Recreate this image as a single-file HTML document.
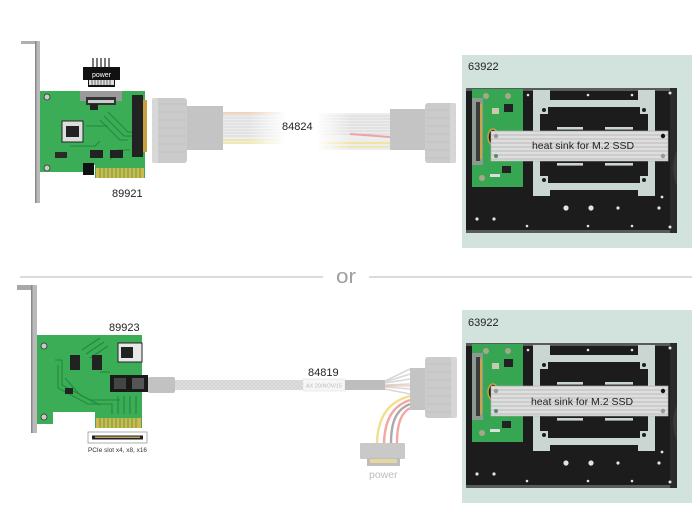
<!DOCTYPE html>
<html><head><meta charset="utf-8">
<style>
html,body{margin:0;padding:0;background:#fff;}
svg{display:block;}
text{font-family:"Liberation Sans",Arial,sans-serif;}
</style></head><body>
<svg width="700" height="530" viewBox="0 0 700 530" xmlns="http://www.w3.org/2000/svg">
<defs>
<linearGradient id="fadeR" x1="0" x2="1" y1="0" y2="0"><stop offset="0" stop-color="#fff" stop-opacity="0"/><stop offset="1" stop-color="#fff" stop-opacity="1"/></linearGradient>
<linearGradient id="fadeL" x1="0" x2="1" y1="0" y2="0"><stop offset="0" stop-color="#fff" stop-opacity="1"/><stop offset="1" stop-color="#fff" stop-opacity="0"/></linearGradient>
<pattern id="hs" width="4" height="4" patternUnits="userSpaceOnUse"><rect width="4" height="4" fill="#dedede"/><rect y="2.4" width="4" height="1.2" fill="#c0c0c0"/></pattern>
<pattern id="braid" width="4" height="4" patternUnits="userSpaceOnUse"><rect width="4" height="4" fill="#d2d2d2"/><path d="M0,0 L4,4 M4,0 L0,4" stroke="#e2e2e2" stroke-width="0.7"/></pattern>
<g id="tray">
 <rect x="0" y="0" width="211" height="145" fill="#1c1c1c"/>
 <rect x="0" y="0" width="211" height="3" fill="#5a5a5a"/>
 <rect x="0" y="142" width="211" height="3" fill="#5a5a5a"/>
 <rect x="204" y="0" width="7" height="145" fill="#2b2b2b"/>
 <path d="M211,62 Q203,80 211,98" fill="#3a3a3a"/>
 <!-- frame cutouts -->
 <g fill="#c9d6d2">
  <rect x="67" y="2" width="7" height="106"/>
  <rect x="182" y="2" width="7" height="106"/>
  <rect x="67" y="12" width="122" height="7"/>
  <rect x="67" y="95" width="122" height="7"/>
  <rect x="67" y="2" width="17" height="10"/>
  <rect x="172" y="2" width="17" height="10"/>
  <rect x="67" y="102" width="17" height="6"/>
  <rect x="172" y="102" width="17" height="6"/>
  <rect x="74" y="19" width="8" height="7"/>
  <rect x="174" y="19" width="8" height="7"/>
  <rect x="74" y="88" width="8" height="7"/>
  <rect x="174" y="88" width="8" height="7"/>
  <rect x="91" y="39" width="26" height="2.6"/>
  <rect x="139" y="39" width="28" height="2.6"/>
  <rect x="91" y="75" width="26" height="2.6"/>
  <rect x="139" y="75" width="28" height="2.6"/>
 </g>
 <g fill="#1c1c1c">
  <circle cx="78" cy="22" r="2"/><circle cx="178" cy="22" r="2"/>
  <circle cx="78" cy="92" r="2"/><circle cx="178" cy="92" r="2"/>
 </g>
 <g fill="#e2e2e2">
  <circle cx="100" cy="120" r="2.6"/><circle cx="125" cy="120" r="2.6"/>
  <circle cx="152" cy="120" r="1.6"/><circle cx="193" cy="120" r="1.6"/>
  <circle cx="11" cy="131" r="1.6"/><circle cx="28" cy="131" r="1.6"/>
  <circle cx="196" cy="109" r="1.4"/>
  <circle cx="62" cy="7" r="1.3"/><circle cx="122" cy="7" r="1.3"/><circle cx="166" cy="7" r="1.3"/><circle cx="204" cy="5" r="1.5"/>
  <circle cx="61" cy="138" r="1.3"/><circle cx="122" cy="138" r="1.3"/><circle cx="166" cy="138" r="1.3"/><circle cx="204" cy="139" r="1.5"/>
 </g>
 <!-- PCB -->
 <rect x="6" y="1" width="51" height="98" fill="#36a653"/>
 <rect x="6" y="10" width="11" height="67" fill="#8d9a92"/>
 <rect x="10" y="14" width="4" height="59" fill="#3c3c3c"/>
 <rect x="14" y="16" width="2" height="55" fill="#c8a448"/>
 <circle cx="20" cy="8" r="3" fill="#a8a68a"/><circle cx="42" cy="8" r="3" fill="#a8a68a"/>
 <circle cx="16" cy="90" r="3" fill="#a8a68a"/><circle cx="44" cy="70" r="3" fill="#a8a68a"/>
 <rect x="38" y="16" width="9" height="8" fill="#222"/>
 <rect x="26" y="20" width="7" height="6" fill="#c9c9b0"/>
 <rect x="36" y="78" width="9" height="7" fill="#222"/>
 <rect x="24" y="86" width="10" height="3" fill="#ddd"/>
 <ellipse cx="27" cy="49" rx="5" ry="8" fill="#1a1a1a" stroke="#c8a040" stroke-width="1.5"/>
 <!-- heat sink -->
 <rect x="25" y="43" width="177" height="30" fill="url(#hs)" stroke="#b5b5b5" stroke-width="0.6"/>
 <circle cx="30" cy="48" r="2.2" fill="#9a9a8a"/>
 <circle cx="197" cy="48" r="2.2" fill="#111"/>
 <circle cx="30" cy="68" r="2" fill="#5a8a6a"/>
 <circle cx="197" cy="68" r="2.2" fill="#9a9a8a"/>
</g>
</defs>

<!-- divider -->
<line x1="20" y1="277" x2="323" y2="277" stroke="#cfcfcf" stroke-width="1.5"/>
<line x1="369" y1="277" x2="692" y2="277" stroke="#cfcfcf" stroke-width="1.5"/>
<text x="336" y="283" font-size="20" fill="#a0a0a0" textLength="20" lengthAdjust="spacingAndGlyphs">or</text>

<!-- panels -->
<rect x="462" y="55" width="230" height="193" fill="#d2e3de"/>
<rect x="462" y="310" width="230" height="193" fill="#d2e3de"/>
<use href="#tray" transform="translate(466,88)"/>
<use href="#tray" transform="translate(466,343)"/>
<text x="468" y="70" font-size="11" fill="#222">63922</text>
<text x="468" y="326" font-size="11" fill="#222">63922</text>
<text x="583" y="149" font-size="10.5" fill="#222" text-anchor="middle">heat sink for M.2 SSD</text>
<text x="582" y="405" font-size="10.5" fill="#222" text-anchor="middle">heat sink for M.2 SSD</text>

<!-- ===== TOP CARD 89921 ===== -->
<rect x="21" y="41" width="17" height="3" fill="#b0b0b0"/>
<rect x="35" y="41" width="5" height="162" fill="#bababa"/>
<rect x="35" y="41" width="1.5" height="162" fill="#8a8a8a"/>
<path d="M40,91 H145 V178 H95 V165 H83 V172 H40 Z" fill="#3aad56"/>
<g stroke="#24883f" stroke-width="1" fill="none">
 <path d="M100,120 L120,140 L128,140"/><path d="M104,116 L124,136 L132,136"/>
 <path d="M108,112 L128,132 L132,132"/><path d="M110,160 L118,150 L130,150"/>
 <path d="M70,146 L95,146 L100,141"/><path d="M86,126 L108,126"/>
</g>
<circle cx="47" cy="97" r="3" fill="#c9c9c9" stroke="#333" stroke-width="0.8"/>
<circle cx="47" cy="168" r="3" fill="#c9c9c9" stroke="#333" stroke-width="0.8"/>
<rect x="80" y="91" width="42" height="10" fill="#9a9a9a"/>
<rect x="86" y="97" width="30" height="8" fill="#333"/>
<rect x="88" y="100" width="26" height="3" fill="#ccc"/>
<rect x="132" y="95" width="11" height="62" fill="#222"/>
<rect x="143" y="100" width="4" height="52" fill="#c8a040"/>
<rect x="62" y="121" width="21" height="21" fill="#ddd" stroke="#222" stroke-width="1"/>
<rect x="66" y="126" width="13" height="11" fill="#222"/>
<rect x="90" y="150" width="13" height="8" fill="#222"/>
<rect x="110" y="150" width="13" height="8" fill="#222"/>
<rect x="90" y="104" width="8" height="6" fill="#222"/>
<rect x="55" y="152" width="12" height="6" fill="#2a2a2a"/>
<rect x="83" y="163" width="11" height="12" fill="#111"/>
<rect x="96" y="168" width="48" height="10" fill="#d9b449"/>
<g stroke="#3aad56" stroke-width="1"><path d="M100,168V178M104,168V178M108,168V178M112,168V178M116,168V178M120,168V178M124,168V178M128,168V178M132,168V178M136,168V178M140,168V178"/></g>
<!-- power connector -->
<g stroke="#222" stroke-width="1.2"><path d="M93,58V67M97,58V67M101,58V67M105,58V67M109,58V67"/></g>
<path d="M83,67 H120 V80 H115 V87 H88 V80 H83 Z" fill="#111"/>
<rect x="89" y="80" width="25" height="5" fill="#ddd"/>
<g stroke="#222" stroke-width="0.6"><path d="M92,80V85M95,80V85M98,80V85M101,80V85M104,80V85M107,80V85M110,80V85"/></g>
<text x="101.5" y="77" font-size="7" fill="#fff" text-anchor="middle">power</text>
<text x="112" y="197" font-size="11" fill="#222">89921</text>

<!-- ===== TOP CABLE 84824 ===== -->
<rect x="223" y="112" width="62" height="32" fill="#ededed"/>
<g stroke="#d0d0d0" stroke-width="0.8"><path d="M223,115H285M223,118H285M223,121H285M223,124H285M223,127H285M223,130H285M223,133H285M223,136H285"/></g>
<line x1="223" y1="113" x2="285" y2="113" stroke="#f3c9a8" stroke-width="1.5"/>
<line x1="223" y1="140" x2="285" y2="140" stroke="#f1e6a8" stroke-width="2"/>
<line x1="223" y1="143" x2="285" y2="143" stroke="#f1e6a8" stroke-width="1.5"/>
<rect x="248" y="105" width="38" height="45" fill="url(#fadeR)"/>
<rect x="187" y="106" width="36" height="44" fill="#c4c4c4"/>
<rect x="152" y="98" width="35" height="65" rx="3" fill="#cbcbcb"/>
<rect x="152" y="98" width="6" height="65" rx="2" fill="#d8d8d8"/>
<g stroke="#bdbdbd" stroke-width="0.7"><path d="M158,104H186M158,112H186M158,120H186M158,128H186M158,136H186M158,144H186M158,152H186"/></g>

<rect x="318" y="113" width="72" height="37" fill="#ededed"/>
<g stroke="#d0d0d0" stroke-width="0.8"><path d="M318,116H390M318,119H390M318,122H390M318,125H390M318,128H390M318,131H390M318,134H390"/></g>
<path d="M350,134 L390,137" stroke="#f0a0a8" stroke-width="2"/>
<line x1="318" y1="143" x2="390" y2="143" stroke="#f0e4a0" stroke-width="2"/>
<line x1="318" y1="147" x2="390" y2="147" stroke="#f0e4a0" stroke-width="1.5"/>
<rect x="316" y="108" width="36" height="45" fill="url(#fadeL)"/>
<rect x="390" y="109" width="35" height="41" fill="#c4c4c4"/>
<rect x="425" y="103" width="31" height="60" rx="3" fill="#cbcbcb"/>
<rect x="450" y="103" width="6" height="60" rx="2" fill="#d6d6d6"/>
<g stroke="#bdbdbd" stroke-width="0.7"><path d="M426,110H450M426,118H450M426,126H450M426,134H450M426,142H450M426,150H450M426,158H450"/></g>
<text x="282" y="130" font-size="11" fill="#222">84824</text>

<!-- ===== BOTTOM CARD 89923 ===== -->
<rect x="17" y="285" width="20" height="5" fill="#a8a8a8"/>
<rect x="31" y="285" width="6" height="148" fill="#bababa"/>
<rect x="31" y="285" width="1.5" height="148" fill="#8a8a8a"/>
<path d="M37,335 H142 V428 H95 V412 H53 V424 H37 Z" fill="#3aad56"/>
<g stroke="#24883f" stroke-width="1.1" fill="none">
 <path d="M55,360 L62,360 L62,385 L90,400 L120,400"/>
 <path d="M58,365 L58,388 L88,404 L112,404 L112,414"/>
 <path d="M82,350 L100,338"/><path d="M86,354 L104,342"/><path d="M90,358 L108,346"/>
 <path d="M100,372 L110,372"/><path d="M118,396 L118,414"/><path d="M124,396 L124,414"/><path d="M130,396 L130,414"/><path d="M136,396 L136,414"/>
 <path d="M65,378 L80,395 L100,405"/>
</g>
<circle cx="44" cy="346" r="3" fill="#c9c9c9" stroke="#333" stroke-width="0.8"/>
<circle cx="44" cy="417" r="3" fill="#c9c9c9" stroke="#333" stroke-width="0.8"/>
<rect x="70" y="355" width="10" height="15" fill="#222"/>
<rect x="92" y="355" width="10" height="15" fill="#222"/>
<rect x="65" y="388" width="8" height="6" fill="#222"/>
<rect x="118" y="343" width="24" height="19" fill="#e8e8e8" stroke="#222" stroke-width="1"/>
<rect x="121" y="347" width="12" height="11" fill="#222"/>
<rect x="110" y="375" width="38" height="17" fill="#1a1a1a"/>
<rect x="114" y="378" width="12" height="11" fill="#444"/>
<rect x="132" y="378" width="12" height="11" fill="#555"/>
<rect x="96" y="418" width="45" height="10" fill="#d9b449"/>
<g stroke="#3aad56" stroke-width="1"><path d="M100,418V428M104,418V428M108,418V428M112,418V428M116,418V428M120,418V428M124,418V428M128,418V428M132,418V428M136,418V428"/></g>
<text x="109" y="331" font-size="11" fill="#222">89923</text>
<!-- PCIe slot icon -->
<rect x="88" y="432" width="59" height="11" fill="#fff" stroke="#9a9a9a" stroke-width="0.8"/>
<rect x="92" y="435.5" width="51" height="4" fill="#222"/>
<rect x="95" y="436.5" width="45" height="1.5" fill="#b8a060"/>
<text x="88" y="452" font-size="6.8" fill="#333" textLength="59" lengthAdjust="spacingAndGlyphs">PCIe slot x4, x8, x16</text>

<!-- ===== BOTTOM CABLE 84819 ===== -->
<rect x="148" y="377" width="27" height="16" rx="2" fill="#c2c2c2"/>
<rect x="175" y="380" width="128" height="10" fill="url(#braid)"/>
<rect x="303" y="379" width="42" height="12" fill="#f6f6f6" stroke="#e2e2e2" stroke-width="0.6"/>
<text x="306" y="387.5" font-size="5.5" fill="#bbb">AX 20/NOV/15</text>
<rect x="345" y="380" width="40" height="10" fill="#bdbdbd"/>
<g stroke="#d8d8d8" stroke-width="1.6" fill="none">
 <path d="M385,381 L410,369"/><path d="M385,382 L410,374"/><path d="M385,383 L410,379"/>
 <path d="M385,385 L410,384"/><path d="M385,387 L410,389"/><path d="M385,389 L410,394"/>
</g>
<path d="M385,386 L410,386" stroke="#f0b8a0" stroke-width="1"/>
<!-- power wires -->
<g fill="none" stroke-width="2.4">
 <path d="M410,396 C395,400 378,410 377,443" stroke="#f2de8c"/>
 <path d="M410,400 C398,404 385,413 384,443" stroke="#f2a7a0"/>
 <path d="M410,404 C400,408 391,416 391,443" stroke="#aaaaaa"/>
 <path d="M410,408 C403,412 397,420 397,443" stroke="#f2a7a0"/>
</g>
<rect x="360" y="443" width="45" height="16" rx="1" fill="#c9c9c9"/>
<rect x="367" y="458" width="33" height="8" fill="#bdbdbd"/>
<rect x="370" y="459" width="27" height="4" fill="#e6d7a0"/>
<text x="369" y="478" font-size="10.5" fill="#bdbdbd">power</text>
<rect x="410" y="368" width="15" height="42" fill="#c4c4c4"/>
<rect x="425" y="357" width="32" height="61" rx="3" fill="#cbcbcb"/>
<rect x="451" y="357" width="6" height="61" rx="2" fill="#d6d6d6"/>
<g stroke="#bdbdbd" stroke-width="0.7"><path d="M426,364H451M426,372H451M426,380H451M426,388H451M426,396H451M426,404H451M426,412H451"/></g>
<text x="308" y="376" font-size="11" fill="#222">84819</text>
</svg>
</body></html>
